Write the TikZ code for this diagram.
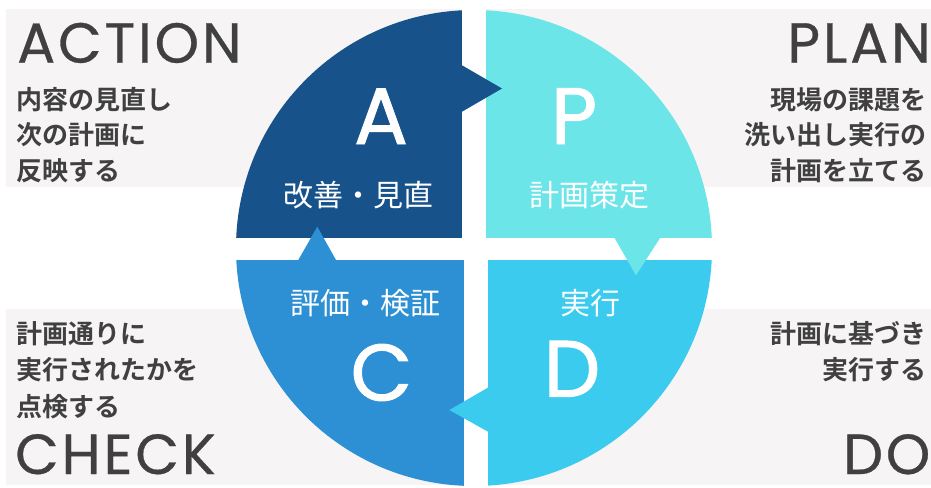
\documentclass[tikz,border=0pt]{standalone}
\usepackage{fontspec}
\newfontfamily\jp{Noto Sans CJK JP}[BoldFont={* Bold}]
\newfontfamily\popbig{Poppins}[FakeBold=1.2]
\newfontfamily\pophead{Poppins}[LetterSpace=5,FakeBold=0.5]
\definecolor{bgray}{HTML}{F6F4F5}
\definecolor{tgray}{HTML}{404040}
\definecolor{cA}{HTML}{17538A}
\definecolor{cP}{HTML}{6CE5E8}
\definecolor{cC}{HTML}{2E90D4}
\definecolor{cD}{HTML}{3ACBEF}
\begin{document}
\begin{tikzpicture}[x=1pt,y=-1pt,
  big/.style={text=white,inner sep=0pt,anchor=base,font=\popbig\fontsize{80}{80}\selectfont},
  head/.style={text=tgray,inner sep=0pt,text depth=0pt,font=\pophead\fontsize{56.5}{56.5}\selectfont},
  desc/.style={text=tgray,inner sep=0pt,font=\jp\bfseries\fontsize{26}{26}\selectfont},
  inlab/.style={text=white,inner sep=0pt,anchor=center,font=\jp\fontsize{30}{30}\selectfont}]
\useasboundingbox (0,0) rectangle (931,487);
% background bands
\fill[bgray] (6,9) rectangle (931,187);
\fill[bgray] (6,309) rectangle (931,485);
\fill[white] (462,0) rectangle (486,248);
\fill[white] (464,248) rectangle (488,487);
% quadrants
\begin{scope}
  \clip (474,248) circle (238pt);
  \fill[cA] (200,0) rectangle (462,237.5);
  \fill[cP] (486,0) rectangle (760,237.5);
  \fill[cC] (200,259.5) rectangle (464,500);
  \fill[cD] (488,259.5) rectangle (760,500);
\end{scope}
% arrow tabs
\fill[cA] (461.5,65) -- (502,88.5) -- (461.5,112) -- cycle;
\fill[cP] (614,237) -- (636,275.3) -- (660.7,237) -- cycle;
\fill[cD] (488.5,387.3) -- (449.3,410) -- (488.5,432) -- cycle;
\fill[cC] (298.3,260) -- (317.3,226.7) -- (336,260) -- cycle;
% big letters
\node[big] (lA) at (381,144) {A};
\node[big] (lP) at (574,144) {P};
\node[big] (lC) at (381.5,400.5) {C};
\node[big] (lD) at (572,396.7) {D};
% inner labels
\node[inlab] (iA) at (358.7,195.5) {改善・見直};
\node[inlab] (iP) at (589.7,195.5) {計画策定};
\node[inlab] (iC) at (365.5,303) {評価・検証};
\node[inlab] (iD) at (590,303) {実行};
% headings
\node[head,anchor=base west] (hA) at (17,62.7) {ACTION};
\node[head,anchor=base east] (hP) at (931,62.7) {PLAN};
\node[head,anchor=base west] (hC) at (15,474) {CHECK};
\node[head,anchor=base east] (hD) at (930.5,474) {DO};
% descriptions
\node[desc,anchor=base west] (a1) at (16.5,109) {内容の見直し};
\node[desc,anchor=base west] (a2) at (16.5,144.5) {次の計画に};
\node[desc,anchor=base west] (a3) at (16.5,180) {反映する};
\node[desc,anchor=base east] (p1) at (927,109) {現場の課題を};
\node[desc,anchor=base east] (p2) at (927,144.5) {洗い出し実行の};
\node[desc,anchor=base east] (p3) at (927,180) {計画を立てる};
\node[desc,anchor=base west] (c1) at (16.5,343.3) {計画通りに};
\node[desc,anchor=base west] (c2) at (16.5,379.2) {実行されたかを};
\node[desc,anchor=base west] (c3) at (16.5,416) {点検する};
\node[desc,anchor=base east] (d1) at (927,343.3) {計画に基づき};
\node[desc,anchor=base east] (d2) at (927,379.2) {実行する};
\end{tikzpicture}
\end{document}
